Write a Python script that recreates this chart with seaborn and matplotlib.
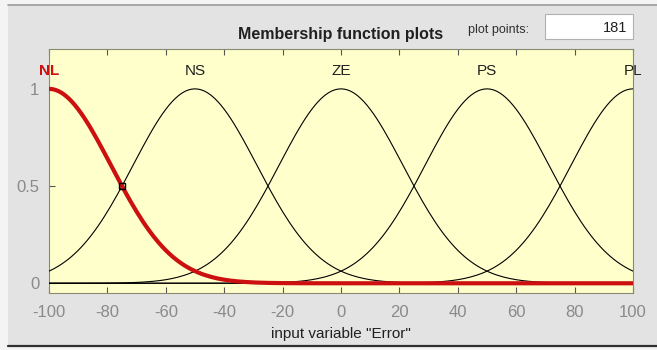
import numpy as np
import pandas as pd
import seaborn as sns
import matplotlib.pyplot as plt
from matplotlib.patches import Rectangle

# Gaussian membership functions of the input variable "Error"
mf_names = ["NL", "NS", "ZE", "PS", "PL"]
mf_centers = [-100, -50, 0, 50, 100]
mf_sigmas = [21.23, 21.23, 21.23, 21.23, 21.23]
x_range = [-100, 100]
n_points = 181
x_ticks = [-100, -80, -60, -40, -20, 0, 20, 40, 60, 80, 100]
y_ticks = [0, 0.5, 1]
y_ticklabels = ["0", "0.5", "1"]
selected = "NL"

sns.set_theme(style="white")
plt.rcParams["font.family"] = ["Liberation Sans", "DejaVu Sans"]

x = np.linspace(x_range[0], x_range[1], n_points)
frames = []
for name, c, s in zip(mf_names, mf_centers, mf_sigmas):
    frames.append(pd.DataFrame({"x": x, "mu": np.exp(-((x - c) ** 2) / (2 * s ** 2)), "mf": name}))
df = pd.concat(frames, ignore_index=True)

fig = plt.figure(figsize=(6.57, 3.5), dpi=100)
fig.patch.set_facecolor("#f4f4f4")

# window panel behind the axes
fig.add_artist(Rectangle((8 / 657, 4 / 350), 649 / 657, 341 / 350, transform=fig.transFigure,
                         facecolor="#e3e3e3", edgecolor="none", zorder=-10))
fig.add_artist(plt.Line2D([8 / 657, 1], [345 / 350, 345 / 350], transform=fig.transFigure,
                          color="#9a9a9a", lw=1.2, zorder=-9))
fig.add_artist(plt.Line2D([8 / 657, 1], [4 / 350, 4 / 350], transform=fig.transFigure,
                          color="#303030", lw=1.6, zorder=-9))

ax = fig.add_axes([49 / 657, 57 / 350, 584 / 657, 244 / 350])
ax.set_facecolor("#ffffcc")

others = df[df["mf"] != selected]
sns.lineplot(data=others, x="x", y="mu", units="mf", estimator=None, color="black",
             lw=0.8, ax=ax, zorder=3)
sel = df[df["mf"] == selected]
sns.lineplot(data=sel, x="x", y="mu", color="#cc1010", lw=3, ax=ax, zorder=4)

# marker at the crossover point of the selected function
i_sel = mf_names.index(selected)
x_half = mf_centers[i_sel] + mf_sigmas[i_sel] * np.sqrt(2 * np.log(2))
ax.plot([x_half], [0.5], marker="s", ms=5, mfc="none", mec="black", mew=1, zorder=5)

for name, c in zip(mf_names, mf_centers):
    ax.text(c, 1.09, name, ha="center", va="center", fontsize=11,
            color="#cc1010" if name == selected else "#202020",
            fontweight="bold" if name == selected else "normal", zorder=6)

ax.set_xlim(x_range)
ax.set_ylim(-0.05, 1.205)
ax.set_xticks(x_ticks)
ax.set_xticklabels([str(t) for t in x_ticks])
ax.set_yticks(y_ticks)
ax.set_yticklabels(y_ticklabels)
ax.tick_params(axis="both", direction="in", length=4, width=0.8, color="#555555",
               labelsize=12, labelcolor="#8a8a8a", top=True, bottom=True, left=True)
ax.tick_params(axis="x", pad=8.5)
ax.tick_params(axis="y", pad=7)
ax.set_xlabel('input variable "Error"', fontsize=11, color="#202020", labelpad=5.5)
ax.set_ylabel("")
for sp in ax.spines.values():
    sp.set_color("#8a8a70")
    sp.set_linewidth(0.8)

fig.text(341 / 657, 1 - 34 / 350, "Membership function plots", ha="center", va="center",
         fontsize=11.5, fontweight="bold", color="#202020")
fig.text(499 / 657, 1 - 30 / 350, "plot points:", ha="center", va="center",
         fontsize=9, color="#303030")
fig.add_artist(Rectangle((545 / 657, 1 - 39 / 350), 88 / 657, 25 / 350, transform=fig.transFigure,
                         facecolor="white", edgecolor="#b0b0b0", lw=0.8, zorder=1))
fig.text(627 / 657, 1 - 28 / 350, str(n_points), ha="right", va="center", fontsize=10.5,
         color="#202020", zorder=2)

fig.savefig("out.png", dpi=100, facecolor=fig.get_facecolor())
